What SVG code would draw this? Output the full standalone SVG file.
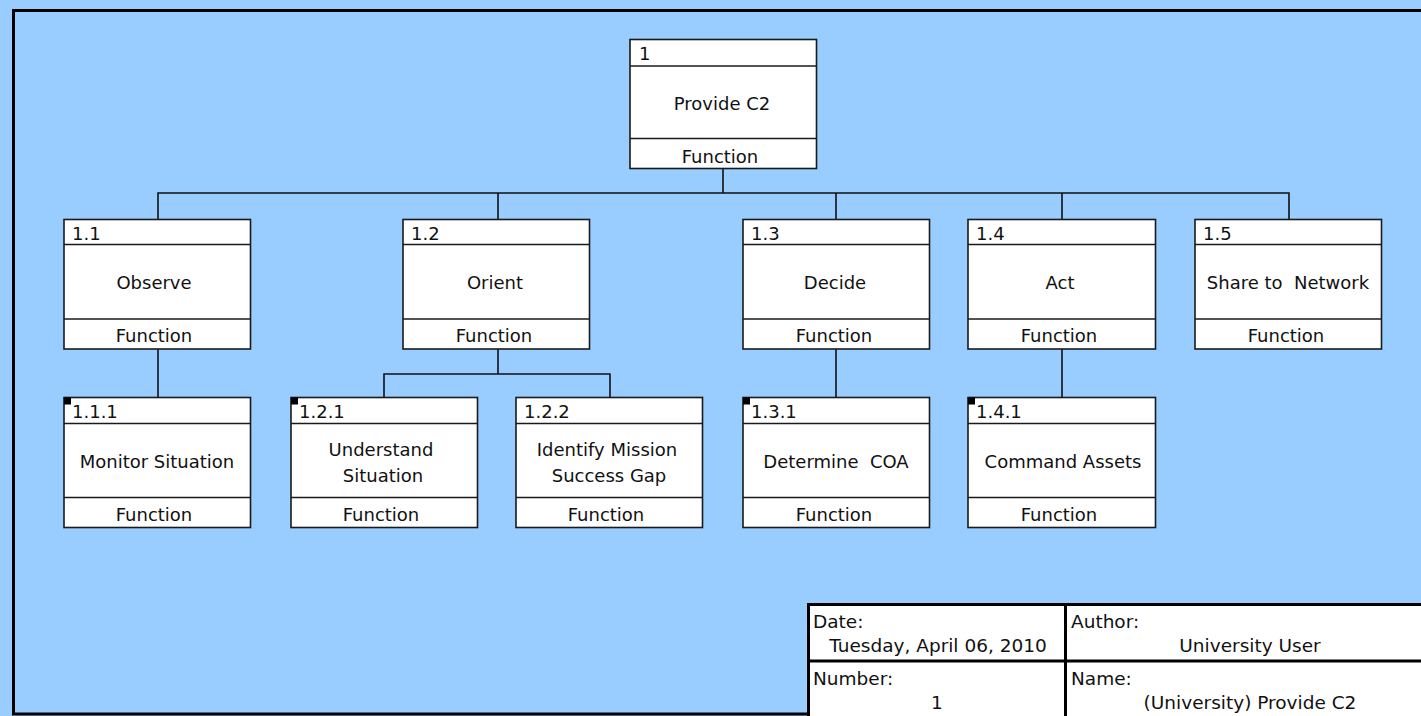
<svg xmlns="http://www.w3.org/2000/svg" width="1421" height="716" viewBox="0 0 1421 716">
<style>
.box{fill:#fff;stroke:#1a1a1a;stroke-width:1.6}
.div{stroke:#1a1a1a;stroke-width:1.6}
.t{font-family:"DejaVu Sans",Verdana,sans-serif;font-size:18px;fill:#111}
.tt{font-size:18.5px}
.c{text-anchor:middle}
.con{stroke:#111;stroke-width:1.6;fill:none}
.mk{fill:#000}
.tb{fill:#fff;stroke:#000;stroke-width:3}
</style>
<rect x="0" y="0" width="1421" height="716" fill="#99ccff"/>
<rect x="13.5" y="10.5" width="1420" height="703.5" fill="none" stroke="#000" stroke-width="3"/>

<g id="connectors">
<path class="con" d="M723,169 V193 M158,219 V193 H1289 V219 M498,193 V219 M836,193 V219 M1062,193 V219"/>
<path class="con" d="M158,349 V397"/>
<path class="con" d="M498,349 V374 M384,397 V374 H610 V397"/>
<path class="con" d="M836,349 V397"/>
<path class="con" d="M1062,349 V397"/>
</g>

<g id="n1">
<rect class="box" x="630" y="39.5" width="186.5" height="129"/>
<line class="div" x1="630" y1="66" x2="816.5" y2="66"/>
<line class="div" x1="630" y1="138.5" x2="816.5" y2="138.5"/>
<text class="t" x="639" y="60">1</text>
<text class="t c" x="722" y="110">Provide C2</text>
<text class="t c" x="720" y="163">Function</text>
</g>

<g id="n1_1">
<rect class="box" x="64" y="219.5" width="186.5" height="129.5"/>
<line class="div" x1="64" y1="244.5" x2="250.5" y2="244.5"/>
<line class="div" x1="64" y1="319" x2="250.5" y2="319"/>
<text class="t" x="72" y="240">1.1</text>
<text class="t c" x="154" y="289">Observe</text>
<text class="t c" x="154" y="342">Function</text>
</g>

<g id="n1_2">
<rect class="box" x="403" y="219.5" width="186.5" height="129.5"/>
<line class="div" x1="403" y1="244.5" x2="589.5" y2="244.5"/>
<line class="div" x1="403" y1="319" x2="589.5" y2="319"/>
<text class="t" x="411" y="240">1.2</text>
<text class="t c" x="495" y="289">Orient</text>
<text class="t c" x="494" y="342">Function</text>
</g>

<g id="n1_3">
<rect class="box" x="743" y="219.5" width="186.5" height="129.5"/>
<line class="div" x1="743" y1="244.5" x2="929.5" y2="244.5"/>
<line class="div" x1="743" y1="319" x2="929.5" y2="319"/>
<text class="t" x="751" y="240">1.3</text>
<text class="t c" x="835" y="289">Decide</text>
<text class="t c" x="834" y="342">Function</text>
</g>

<g id="n1_4">
<rect class="box" x="968" y="219.5" width="187.5" height="129.5"/>
<line class="div" x1="968" y1="244.5" x2="1155.5" y2="244.5"/>
<line class="div" x1="968" y1="319" x2="1155.5" y2="319"/>
<text class="t" x="976" y="240">1.4</text>
<text class="t c" x="1060" y="289">Act</text>
<text class="t c" x="1059" y="342">Function</text>
</g>

<g id="n1_5">
<rect class="box" x="1195" y="219.5" width="186.5" height="129.5"/>
<line class="div" x1="1195" y1="244.5" x2="1381.5" y2="244.5"/>
<line class="div" x1="1195" y1="319" x2="1381.5" y2="319"/>
<text class="t" x="1203" y="240">1.5</text>
<text class="t c" x="1288" y="289" xml:space="preserve">Share to  Network</text>
<text class="t c" x="1286" y="342">Function</text>
</g>

<g id="n1_1_1">
<rect class="box" x="64" y="397.5" width="186.5" height="130"/>
<line class="div" x1="64" y1="423.5" x2="250.5" y2="423.5"/>
<line class="div" x1="64" y1="497.5" x2="250.5" y2="497.5"/>
<rect class="mk" x="64" y="397.5" width="7" height="7"/>
<text class="t" x="72" y="418">1.1.1</text>
<text class="t c" x="157" y="468">Monitor Situation</text>
<text class="t c" x="154" y="521">Function</text>
</g>

<g id="n1_2_1">
<rect class="box" x="291" y="397.5" width="186.5" height="130"/>
<line class="div" x1="291" y1="423.5" x2="477.5" y2="423.5"/>
<line class="div" x1="291" y1="497.5" x2="477.5" y2="497.5"/>
<rect class="mk" x="291" y="397.5" width="7" height="7"/>
<text class="t" x="299" y="418">1.2.1</text>
<text class="t c" x="381" y="456">Understand</text>
<text class="t c" x="383" y="482">Situation</text>
<text class="t c" x="381" y="521">Function</text>
</g>

<g id="n1_2_2">
<rect class="box" x="516" y="397.5" width="186.5" height="130"/>
<line class="div" x1="516" y1="423.5" x2="702.5" y2="423.5"/>
<line class="div" x1="516" y1="497.5" x2="702.5" y2="497.5"/>
<text class="t" x="524" y="418">1.2.2</text>
<text class="t c" x="607" y="456">Identify Mission</text>
<text class="t c" x="609" y="482">Success Gap</text>
<text class="t c" x="606" y="521">Function</text>
</g>

<g id="n1_3_1">
<rect class="box" x="743" y="397.5" width="186.5" height="130"/>
<line class="div" x1="743" y1="423.5" x2="929.5" y2="423.5"/>
<line class="div" x1="743" y1="497.5" x2="929.5" y2="497.5"/>
<rect class="mk" x="743" y="397.5" width="7" height="7"/>
<text class="t" x="751" y="418">1.3.1</text>
<text class="t c" x="836" y="468" xml:space="preserve">Determine  COA</text>
<text class="t c" x="834" y="521">Function</text>
</g>

<g id="n1_4_1">
<rect class="box" x="968" y="397.5" width="187.5" height="130"/>
<line class="div" x1="968" y1="423.5" x2="1155.5" y2="423.5"/>
<line class="div" x1="968" y1="497.5" x2="1155.5" y2="497.5"/>
<rect class="mk" x="968" y="397.5" width="7" height="7"/>
<text class="t" x="976" y="418">1.4.1</text>
<text class="t c" x="1063" y="468">Command Assets</text>
<text class="t c" x="1059" y="521">Function</text>
</g>

<g id="titleblock">
<rect class="tb" x="808.5" y="604.5" width="620" height="115"/>
<line stroke="#000" stroke-width="3" x1="1065.5" y1="604.5" x2="1065.5" y2="716"/>
<line stroke="#000" stroke-width="3" x1="808.5" y1="661" x2="1421" y2="661"/>
<text class="t tt" x="813" y="628">Date:</text>
<text class="t tt c" x="938" y="652">Tuesday, April 06, 2010</text>
<text class="t tt" x="1071" y="628">Author:</text>
<text class="t tt c" x="1250" y="652">University User</text>
<text class="t tt" x="813" y="685">Number:</text>
<text class="t tt c" x="937" y="709">1</text>
<text class="t tt" x="1071" y="685">Name:</text>
<text class="t tt c" x="1250" y="709">(University) Provide C2</text>
</g>
</svg>
